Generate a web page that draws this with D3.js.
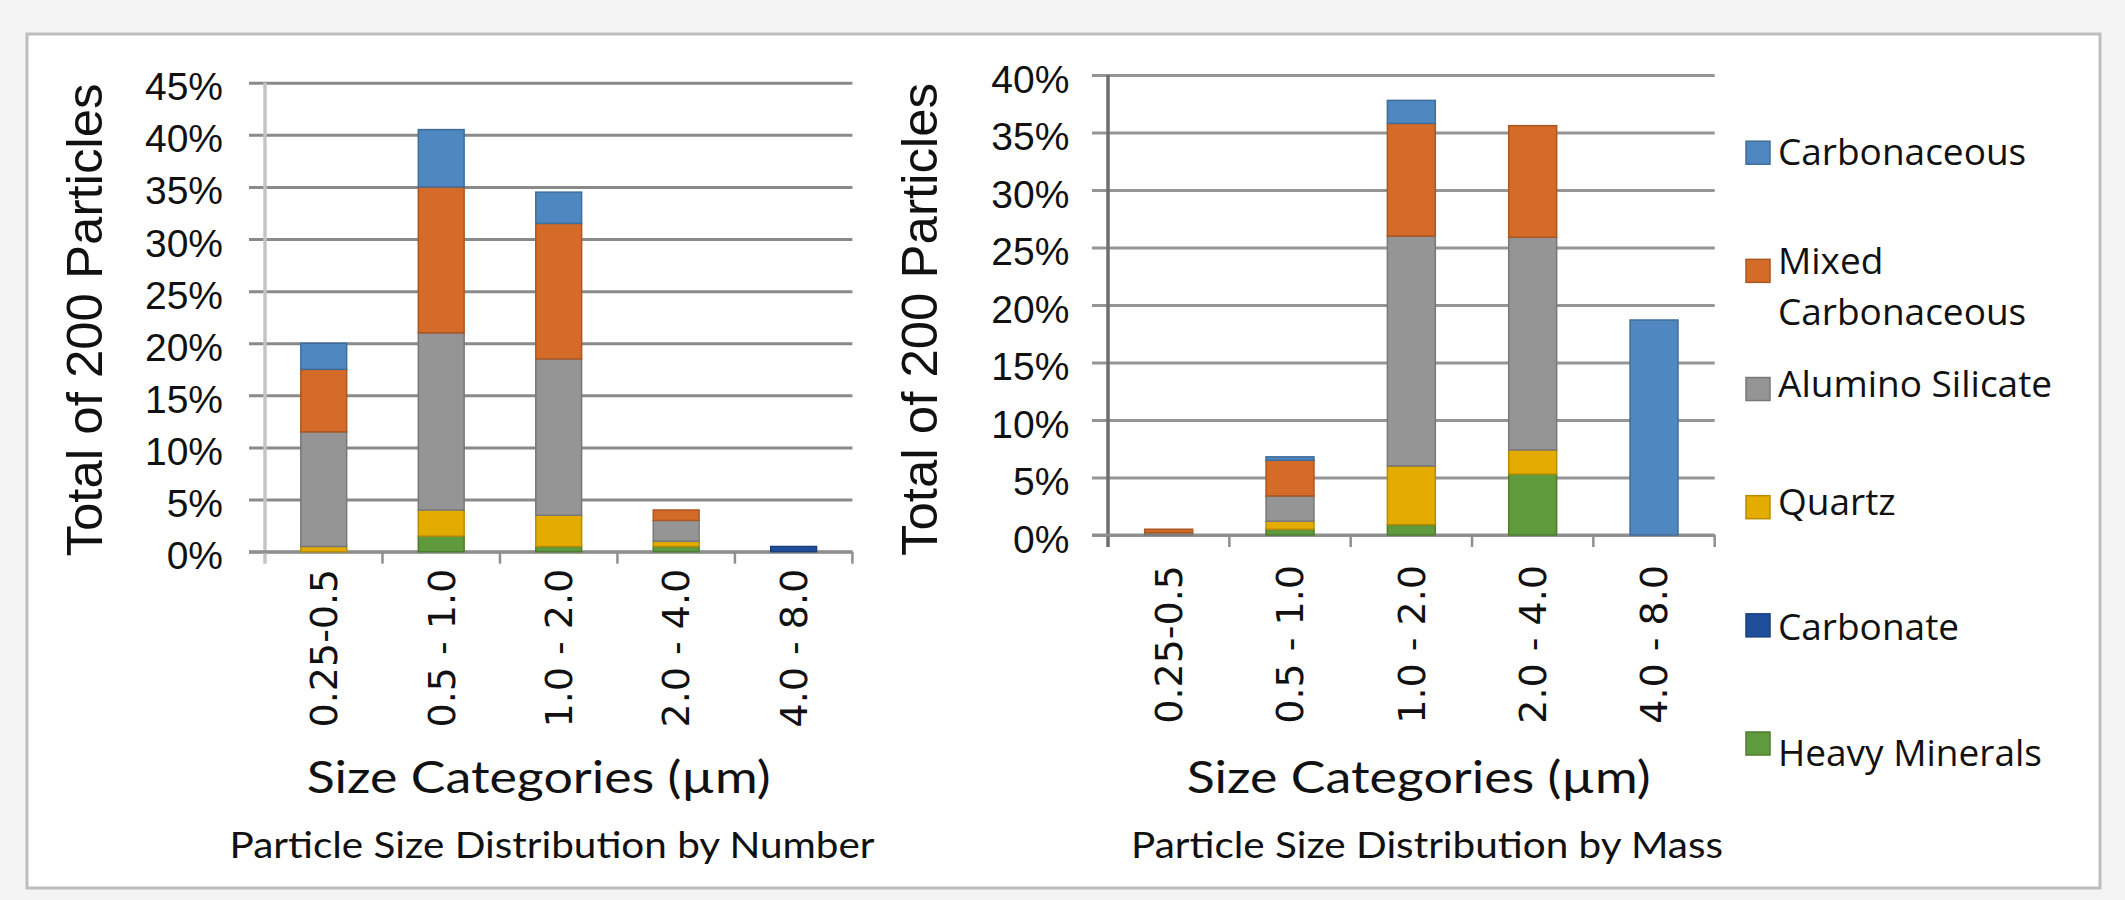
<!DOCTYPE html>
<html>
<head>
<meta charset="utf-8">
<script src="https://cdn.jsdelivr.net/npm/d3@7"></script>
<style>
  html, body { margin: 0; padding: 0; background: #f4f4f4; }
  svg { display: block; }
</style>
</head>
<body>
<svg id="chart" width="2125" height="900"></svg>
<script>
// ---------------- DATA ----------------
const categories = ["0.25-0.5", "0.5 - 1.0", "1.0 - 2.0", "2.0 - 4.0", "4.0 - 8.0"];
// stacking order, bottom to top
const seriesNames = ["Heavy Minerals", "Carbonate", "Quartz", "Alumino Silicate", "Mixed Carbonaceous", "Carbonaceous"];
const seriesColors = ["#5f9a3c", "#1f4e9a", "#e5ac00", "#959595", "#d56b28", "#4f88c0"];
// legend order, top to bottom
const legendNames = ["Carbonaceous", "Mixed Carbonaceous", "Alumino Silicate", "Quartz", "Carbonate", "Heavy Minerals"];

// Particle Size Distribution by Number (%)
const heavyNumber       = [0.0, 1.5, 0.5, 0.5, 0.0];
const carbonateNumber   = [0.0, 0.0, 0.0, 0.0, 0.5];
const quartzNumber      = [0.5, 2.5, 3.0, 0.5, 0.0];
const aluminoNumber     = [11.0, 17.0, 15.0, 2.0, 0.0];
const mixedNumber       = [6.0, 14.0, 13.0, 1.0, 0.0];
const carbonaceousNumber= [2.5, 5.5, 3.0, 0.0, 0.0];

// Particle Size Distribution by Mass (%)
const heavyMass        = [0.0, 0.5, 0.9, 5.3, 0.0];
const carbonateMass    = [0.0, 0.0, 0.0, 0.0, 0.0];
const quartzMass       = [0.0, 0.7, 5.1, 2.1, 0.0];
const aluminoMass      = [0.2, 2.2, 20.0, 18.5, 0.0];
const mixedMass        = [0.3, 3.1, 9.8, 9.7, 0.0];
const carbonaceousMass = [0.0, 0.3, 2.0, 0.0, 18.7];

const yTicksNumber = [0, 5, 10, 15, 20, 25, 30, 35, 40, 45];
const yTicksMass   = [0, 5, 10, 15, 20, 25, 30, 35, 40];

const yTitle = "Total of 200 Particles";
const xTitle = "Size Categories (\u00b5m)";
const captionNumber = "Particle Size Distribution by Number";
const captionMass = "Particle Size Distribution by Mass";

// ---------------- DRAW ----------------
const svg = d3.select("#chart");

// white panel with frame
svg.append("rect")
  .attr("x", 27).attr("y", 34).attr("width", 2073).attr("height", 854)
  .attr("fill", "#ffffff").attr("stroke", "#bdbdbd").attr("stroke-width", 3);

function buildRows(arrs) {
  return categories.map((c, i) => {
    const r = { cat: c };
    seriesNames.forEach((s, k) => r[s] = arrs[k][i]);
    return r;
  });
}

function drawChart(cfg) {
  const g = svg.append("g");
  const x = d3.scaleBand().domain(categories)
    .range([cfg.left, cfg.right])
    .paddingInner(cfg.pad).paddingOuter(cfg.pad / 2);
  const y = d3.scaleLinear().domain([0, cfg.yMax]).range([cfg.bottom, cfg.top]);

  // gridlines + y tick labels
  const gridStart = cfg.left - 16;
  const yAxis = d3.axisLeft(y).tickValues(cfg.yTicks)
    .tickFormat(d => d + "%")
    .tickSizeInner(-(cfg.right - gridStart)).tickSizeOuter(0)
    .tickPadding(cfg.left - 16 - cfg.labelRight);
  const ya = g.append("g").attr("transform", `translate(${gridStart},0)`).call(yAxis);
  ya.select(".domain").remove();
  ya.selectAll(".tick line").attr("stroke", cfg.gridColor).attr("stroke-width", 3);
  ya.selectAll(".tick text")
    .attr("font-family", "'Liberation Sans', Arial, sans-serif")
    .attr("font-size", 39).attr("fill", "#111")
    .attr("dy", null).attr("y", 17);

  // y axis line
  g.append("line")
    .attr("x1", cfg.left).attr("x2", cfg.left)
    .attr("y1", y(cfg.yMax)).attr("y2", y(0) + 12)
    .attr("stroke", cfg.axisColor).attr("stroke-width", 3.5);

  // x axis line
  g.append("line")
    .attr("x1", gridStart).attr("x2", cfg.right)
    .attr("y1", y(0)).attr("y2", y(0))
    .attr("stroke", "#8f8f8f").attr("stroke-width", 3);

  // category boundary ticks
  const bounds = d3.range(1, categories.length + 1).map(i => cfg.left + i * x.step());
  g.selectAll(".btick").data(bounds).join("line")
    .attr("x1", d => d).attr("x2", d => d)
    .attr("y1", y(0)).attr("y2", y(0) + 12)
    .attr("stroke", "#8f8f8f").attr("stroke-width", 2.5);

  // stacked bars
  const rows = buildRows(cfg.arrs);
  const stacked = d3.stack().keys(seriesNames)(rows);
  stacked.forEach((layer, k) => {
    const col = seriesColors[k];
    g.append("g").selectAll("rect")
      .data(layer.filter(d => d[1] - d[0] > 0))
      .join("rect")
      .attr("x", d => x(d.data.cat))
      .attr("width", x.bandwidth())
      .attr("y", d => y(d[1]))
      .attr("height", d => y(d[0]) - y(d[1]))
      .attr("fill", col)
      .attr("stroke", d3.color(col).darker(0.6))
      .attr("stroke-width", 1.5);
  });

  // x tick labels (rotated)
  g.selectAll(".xlab").data(categories).join("text")
    .attr("transform", d => `translate(${x(d) + x.bandwidth() / 2},${y(0) + cfg.labelGap}) rotate(-90)`)
    .attr("text-anchor", "end")
    .attr("dy", "0.35em")
    .attr("font-family", "'DejaVu Sans', sans-serif")
    .attr("font-size", 38)
    .attr("fill", "#111")
    .text(d => d);

  // y title
  g.append("text")
    .attr("transform", `translate(${cfg.yTitleX},${cfg.yTitleY}) rotate(-90)`)
    .attr("text-anchor", "middle")
    .attr("font-family", "'Liberation Sans', Arial, sans-serif")
    .attr("font-size", 50)
    .attr("textLength", 473).attr("lengthAdjust", "spacingAndGlyphs")
    .attr("fill", "#111")
    .text(yTitle);

  // x title
  g.append("text")
    .attr("x", cfg.xTitleX).attr("y", 793)
    .attr("font-family", "Lato, sans-serif")
    .attr("font-size", 44)
    .attr("textLength", 464).attr("lengthAdjust", "spacingAndGlyphs")
    .attr("fill", "#111")
    .text(xTitle);

  // caption
  g.append("text")
    .attr("x", cfg.capX).attr("y", 858)
    .attr("font-family", "Lato, sans-serif")
    .attr("font-size", 37)
    .attr("textLength", cfg.capLen).attr("lengthAdjust", "spacingAndGlyphs")
    .attr("fill", "#111")
    .text(cfg.caption);
}

drawChart({
  arrs: [heavyNumber, carbonateNumber, quartzNumber, aluminoNumber, mixedNumber, carbonaceousNumber],
  yMax: 45, yTicks: yTicksNumber,
  left: 265, right: 852.4, top: 82.7, bottom: 551.7, pad: 0.61,
  labelRight: 223, labelGap: 17,
  gridColor: "#8a8a8a", axisColor: "#c4c4c4",
  yTitleX: 101.7, yTitleY: 320,
  xTitleX: 306.7, capX: 229.6, capLen: 645, caption: captionNumber
});

drawChart({
  arrs: [heavyMass, carbonateMass, quartzMass, aluminoMass, mixedMass, carbonaceousMass],
  yMax: 40, yTicks: yTicksMass,
  left: 1108, right: 1714.7, top: 75.1, bottom: 535, pad: 0.605,
  labelRight: 1069.4, labelGap: 30,
  gridColor: "#959595", axisColor: "#6e6e6e",
  yTitleX: 937.4, yTitleY: 319.5,
  xTitleX: 1186.7, capX: 1131, capLen: 592, caption: captionMass
});

// ---------------- LEGEND ----------------
const leg = svg.append("g");
const legendY = d3.scalePoint().domain(legendNames).range([152.7, 743.5]);
const legendTextShift = [12, 3, 8, 8, 15, 22]; // baseline offset of each label relative to its swatch centre
legendNames.forEach((name, i) => {
  const k = seriesNames.indexOf(name);
  const cy = legendY(name);
  const col = seriesColors[k];
  leg.append("rect")
    .attr("x", 1746).attr("y", cy - 11.5).attr("width", 24).attr("height", 23)
    .attr("fill", col).attr("stroke", d3.color(col).darker(0.6)).attr("stroke-width", 1.5);
  const t = leg.append("text")
    .attr("font-family", "'Open Sans', sans-serif")
    .attr("font-size", 37)
    .attr("fill", "#111");
  if (name === "Mixed Carbonaceous") {
    t.append("tspan").attr("x", 1778).attr("y", cy + legendTextShift[i]).text("Mixed");
    t.append("tspan").attr("x", 1778).attr("y", cy + legendTextShift[i] + 51).text("Carbonaceous");
  } else {
    t.attr("x", 1778).attr("y", cy + legendTextShift[i]).text(name);
  }
});
</script>
</body>
</html>
